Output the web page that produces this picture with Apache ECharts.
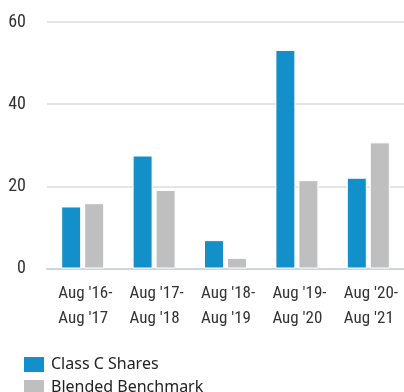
<!DOCTYPE html>
<html>
<head>
<meta charset="utf-8">
<script src="https://cdn.jsdelivr.net/npm/echarts@6/dist/echarts.min.js"></script>
<style>
  html, body { margin: 0; padding: 0; background: #fff; }
  #chart { width: 404px; height: 392px; }
</style>
</head>
<body>
<div id="chart"></div>
<script>
// Annual returns (%) for each August-to-August period
const periods = ["Aug '16-\nAug '17", "Aug '17-\nAug '18", "Aug '18-\nAug '19", "Aug '19-\nAug '20", "Aug '20-\nAug '21"];
const classCShares = [15.1, 27.5, 6.9, 53.2, 22.1];
const blendedBenchmark = [15.9, 19.1, 2.6, 21.5, 30.7];
const yTicks = [0, 20, 40, 60];

const condensed = '"Roboto Condensed", "Liberation Sans Narrow", sans-serif';

const chart = echarts.init(document.getElementById('chart'), null, { renderer: 'canvas' });
chart.setOption({
  animation: false,
  backgroundColor: '#fff',
  grid: { left: 47, right: -9.5, top: 22, bottom: 123.5, containLabel: false },
  legend: {
    orient: 'vertical',
    left: 22,
    top: 355,
    height: 80,
    itemWidth: 22,
    itemHeight: 17,
    itemGap: 4,
    icon: 'rect',
    padding: 0,
    textStyle: { fontFamily: '"Noto Sans", sans-serif', fontSize: 16, color: '#222', padding: [0, 0, 0, 1] },
    data: ['Class C Shares', 'Blended Benchmark']
  },
  xAxis: {
    type: 'category',
    data: periods,
    axisLine: { show: true, lineStyle: { color: '#c9d6df', width: 2 } },
    axisTick: { show: false },
    axisLabel: {
      interval: 0,
      margin: 13,
      formatter: v => '{t|' + v.split('\n').join('}\n{t|') + '}',
      rich: {
        t: { width: 49, align: 'left', fontFamily: condensed, fontSize: 17, lineHeight: 25, color: '#333' }
      }
    }
  },
  yAxis: {
    type: 'value',
    min: yTicks[0],
    max: yTicks[yTicks.length - 1],
    interval: 20,
    axisLine: { show: false },
    axisTick: { show: false },
    splitLine: { lineStyle: { color: '#dddddd', width: 1.5 } },
    axisLabel: {
      margin: 21,
      fontFamily: condensed,
      fontSize: 18,
      color: '#333',
      padding: [3, 0, 0, 0]
    }
  },
  series: [
    {
      name: 'Class C Shares',
      type: 'bar',
      data: classCShares,
      barWidth: 20,
      barGap: '15%',
      itemStyle: { color: '#1390c9', borderColor: '#fff', borderWidth: 1 }
    },
    {
      name: 'Blended Benchmark',
      type: 'bar',
      data: blendedBenchmark,
      barWidth: 20,
      itemStyle: { color: '#bfbfbf', borderColor: '#fff', borderWidth: 1 }
    }
  ]
});
</script>
</body>
</html>
